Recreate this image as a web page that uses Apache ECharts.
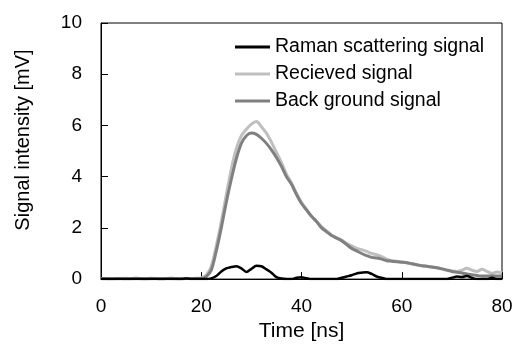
<!DOCTYPE html>
<html>
<head>
<meta charset="utf-8">
<script src="https://cdn.jsdelivr.net/npm/echarts@6/dist/echarts.min.js"></script>
<style>html,body{margin:0;padding:0;background:#fff}#c{width:516px;height:347px}</style>
</head>
<body>
<div id="c"></div>
<script>
const times = [0,1,2,3,4,5,6,7,8,9,10,11,12,13,14,15,16,17,18,19,20,21,22,23,24,25,26,27,28,29,30,31,32,33,34,35,36,37,38,39,40,41,42,43,44,45,46,47,48,49,50,51,52,53,54,55,56,57,58,59,60,61,62,63,64,65,66,67,68,69,70,71,72,73,74,75,76,77,78,79,80];
const raman = [0,0,0,0,0,0,0,0,0,0,0,0,0,0,0,0,0,0.02,0,0,0,0,0.03,0.12,0.3,0.42,0.47,0.5,0.42,0.28,0.4,0.52,0.5,0.38,0.25,0.08,0.02,0,0,0.05,0.07,0.03,0,0,0,0,0,0,0.05,0.1,0.15,0.22,0.25,0.27,0.2,0.1,0.05,0,0,0,0,0,0,0,0,0,0,0,0,0,0.05,0.1,0.08,0.12,0.05,0,0,0,0.05,0,0];
const received = [0.02,0.01,0.02,0.01,0.02,0.03,0.01,0.02,0.01,0.02,0.03,0.02,0.01,0.02,0.02,0.01,0.02,0.02,0.02,0.03,0.05,0.15,0.5,1.3,2.25,3.3,4.3,5.1,5.6,5.85,6.05,6.15,5.95,5.7,5.35,4.95,4.55,4.1,3.75,3.35,3.0,2.72,2.45,2.25,2.05,1.88,1.72,1.62,1.52,1.4,1.3,1.2,1.15,1.08,1.0,0.95,0.88,0.78,0.72,0.7,0.67,0.64,0.6,0.56,0.53,0.5,0.47,0.44,0.4,0.36,0.32,0.3,0.35,0.42,0.35,0.3,0.38,0.3,0.22,0.28,0.25];
const background = [0.02,0.02,0.01,0.02,0.02,0.01,0.02,0.03,0.02,0.01,0.02,0.02,0.01,0.02,0.03,0.02,0.01,0.02,0.02,0.02,0.02,0.1,0.35,1.1,2.0,3.0,3.9,4.7,5.3,5.6,5.7,5.65,5.5,5.3,5.05,4.75,4.4,4.0,3.7,3.3,2.95,2.7,2.45,2.25,2.0,1.85,1.7,1.6,1.5,1.35,1.2,1.1,1.0,0.92,0.85,0.82,0.78,0.72,0.7,0.68,0.66,0.64,0.6,0.56,0.52,0.5,0.47,0.44,0.4,0.35,0.3,0.27,0.24,0.2,0.17,0.14,0.12,0.12,0.13,0.12,0.12];
const seriesNames = ['Raman scattering signal','Recieved signal','Back ground signal'];
const xTitle = 'Time [ns]';
const yTitle = 'Signal intensity [mV]';

const font = 'Liberation Sans, Arial, sans-serif';
const pair = (arr) => times.map((t, i) => [t, arr[i]]);
const chart = echarts.init(document.getElementById('c'));
chart.setOption({
  animation: false,
  textStyle: {fontFamily: font},
  grid: {left: 101, right: 14, top: 23, bottom: 67, show: true, borderColor: '#000', borderWidth: 1, containLabel: false},
  legend: {
    orient: 'vertical', left: 235, top: 37, padding: 0, itemWidth: 35, itemHeight: 3, itemGap: 7,
    textStyle: {fontFamily: font, fontSize: 19.5, color: '#000'},
    data: [
      {name: seriesNames[0], icon: 'rect', itemStyle: {color: '#000'}},
      {name: seriesNames[1], icon: 'rect', itemStyle: {color: '#bfbfbf'}},
      {name: seriesNames[2], icon: 'rect', itemStyle: {color: '#808080'}}
    ]
  },
  xAxis: {
    type: 'value', min: 0, max: 80, interval: 20,
    name: xTitle, nameLocation: 'middle', nameGap: 34,
    nameTextStyle: {fontFamily: font, fontSize: 21, color: '#000'},
    axisLine: {lineStyle: {color: '#000', width: 1}},
    axisTick: {inside: true, length: 7, lineStyle: {color: '#000'}},
    axisLabel: {fontFamily: font, fontSize: 19, color: '#000', margin: 18},
    splitLine: {show: false}
  },
  yAxis: {
    type: 'value', min: 0, max: 10, interval: 2,
    name: yTitle, nameLocation: 'middle', nameGap: 68, nameRotate: 90,
    nameTextStyle: {fontFamily: font, fontSize: 20, color: '#000', padding: [0, 0, 0, 22]},
    axisLine: {show: true, lineStyle: {color: '#000', width: 1}},
    axisTick: {show: true, inside: true, length: 7, lineStyle: {color: '#000'}},
    axisLabel: {fontFamily: font, fontSize: 19, color: '#000', margin: 19},
    splitLine: {show: false}
  },
  series: [
    {name: seriesNames[1], type: 'line', data: pair(received), showSymbol: false, smooth: 0.3, z: 2,
     lineStyle: {color: '#bfbfbf', width: 3}, itemStyle: {color: '#bfbfbf'}},
    {name: seriesNames[2], type: 'line', data: pair(background), showSymbol: false, smooth: 0.3, z: 3,
     lineStyle: {color: '#808080', width: 3}, itemStyle: {color: '#808080'}},
    {name: seriesNames[0], type: 'line', data: pair(raman), showSymbol: false, smooth: 0.3, z: 4,
     lineStyle: {color: '#000', width: 2.5}, itemStyle: {color: '#000'}}
  ]
});
</script>
</body>
</html>
